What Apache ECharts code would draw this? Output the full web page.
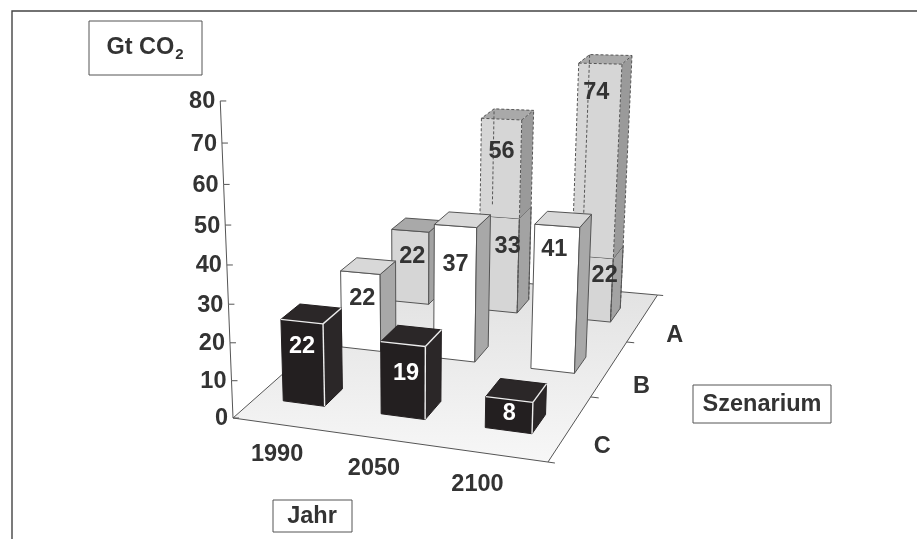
<!DOCTYPE html>
<html>
<head>
<meta charset="utf-8">
<script src="https://cdn.jsdelivr.net/npm/echarts@6/dist/echarts.min.js"></script>
<style>
html, body { margin: 0; background: #fff; }
#main { width: 917px; height: 539px; }
</style>
</head>
<body>
<div id="main"></div>
<script>
const jahre = ['1990', '2050', '2100'];
const szenarien = ['C', 'B', 'A'];
const ticks = [0, 10, 20, 30, 40, 50, 60, 70, 80];

const werteC = [22, 19, 8];
const werteB = [22, 37, 41];
const werteA = [22, 33, 22];
const oberA = [null, 56, 74];
// heights as they are drawn in the picture, a few differ from the printed labels
const gezeichnetB = [22, 37, 39];
const gezeichnetA = [22, 28, 18.5];
const gezeichnetOber = [null, 56, 72];

// camera: homogeneous image vectors of the jahr, szenario and height directions
const camU = [265.1, 2.0, -0.091];
const camV = [265.3, -77.5, 0.252];
const camH = [-27.5, -323.8, -0.067];
const cam0 = [233, 418, 1];
function project(u, v, h) {
  const p = [0, 1, 2].map(k => cam0[k] + u * camU[k] + v * camV[k] + h * camH[k]);
  return [p[0] / p[2], p[1] / p[2]];
}

const FONT = 'bold 23.5px "Liberation Sans", Arial, sans-serif';
const INK = '#333333';

function poly(points, fill, stroke, dash, width) {
  return {
    type: 'polygon',
    shape: { points: points },
    style: { fill: fill, stroke: stroke, lineWidth: width || 1, lineDash: dash || null }
  };
}
function seg(a, b, stroke, dash, width) {
  return {
    type: 'line',
    shape: { x1: a[0], y1: a[1], x2: b[0], y2: b[1] },
    style: { stroke: stroke, lineWidth: width || 1, lineDash: dash || null }
  };
}
function label(pos, text, fill, align) {
  return {
    type: 'text',
    x: pos[0],
    y: pos[1],
    style: { text: text, fill: fill, font: FONT, align: align || 'center', verticalAlign: 'middle' }
  };
}

// unit positions of a bar, taken from the hidden axes of the grid
function barBox(params, api, jahr, reihe, wert) {
  const cs = params.coordSys;
  const band = api.size([1, 0])[0] / cs.width;
  const uc = (api.coord([jahr, 0])[0] - cs.x) / cs.width;
  return {
    u0: uc - band * 0.215,
    u1: uc + band * 0.215,
    v0: (reihe + 0.5) / szenarien.length - 0.05,
    v1: (reihe + 0.5) / szenarien.length + 0.05,
    h: (cs.y + cs.height - api.coord([jahr, wert])[1]) / cs.height
  };
}
function corners(b, h0, h1) {
  return {
    fl0: project(b.u0, b.v0, h0), fr0: project(b.u1, b.v0, h0), br0: project(b.u1, b.v1, h0),
    bl0: project(b.u0, b.v1, h0),
    fl1: project(b.u0, b.v0, h1), fr1: project(b.u1, b.v0, h1), br1: project(b.u1, b.v1, h1),
    bl1: project(b.u0, b.v1, h1)
  };
}
function boxFaces(c, front, side, top, stroke, dash) {
  return [
    poly([c.fl0, c.fr0, c.fr1, c.fl1], front, stroke, dash),
    poly([c.fr0, c.br0, c.br1, c.fr1], side, stroke, dash),
    poly([c.fl1, c.fr1, c.br1, c.bl1], top, stroke, dash)
  ];
}

function renderFloor(params, api) {
  const bl = project(0, 0, 0), br = project(1, 0, 0), tr = project(1, 1, 0), tl = project(0, 1, 0);
  const kids = [
    {
      type: 'polygon',
      shape: { points: [bl, br, tr, tl] },
      style: {
        fill: new echarts.graphic.LinearGradient(0, 0, 0, 1, [
          { offset: 0, color: '#e0e0e0' },
          { offset: 1, color: '#f7f7f7' }
        ]),
        stroke: '#555',
        lineWidth: 1
      }
    },
    seg(br, project(1.02, 0, 0), '#555'),
    seg(tr, project(1.02, 1, 0), '#555')
  ];
  szenarien.forEach((s, i) => {
    const a = project(1, (i + 0.5) / szenarien.length, 0);
    kids.push(label([a[0] + 32, a[1] + 18], s, INK));
    if (i > 0) {
      const t = i / szenarien.length;
      kids.push(seg(project(1, t, 0), project(1.025, t, 0), '#555'));
    }
  });
  return { type: 'group', children: kids };
}

function renderAchse(params, api) {
  const cs = params.coordSys;
  const t = api.value(1);
  const h = (cs.y + cs.height - api.coord([0, t])[1]) / cs.height;
  const p = project(0, 0, h);
  const kids = [
    seg(p, [p[0] + 6, p[1]], '#555'),
    label([p[0] - 5, p[1] + 1], String(t), INK, 'right')
  ];
  if (t > 0) {
    const q = project(0, 0, (cs.y + cs.height - api.coord([0, t - 10])[1]) / cs.height);
    kids.push(seg(q, p, '#555'));
  }
  return { type: 'group', children: kids };
}

function renderJahr(params, api) {
  const cs = params.coordSys;
  const i = api.value(0);
  const uc = (api.coord([i, 0])[0] - cs.x) / cs.width;
  const a = project(uc, 0, 0);
  return label([a[0] - 2 - 14 * uc, a[1] + 30], jahre[i], INK);
}

function renderBlack(params, api) {
  const i = api.value(0);
  const b = barBox(params, api, i, 0, api.value(1));
  const c = corners(b, 0, b.h);
  const dark = '#231f20';
  return {
    type: 'group',
    children: boxFaces(c, dark, '#2b2728', '#2b2728', dark).concat([
      seg(c.fl1, c.fr1, '#eeeeee', null, 1.4),
      seg(c.fr0, c.fr1, '#eeeeee', null, 1.4),
      seg(c.fr1, c.br1, '#eeeeee', null, 1.4)
    ])
  };
}

function renderWhite(params, api) {
  const b = barBox(params, api, api.value(0), 1, api.value(1));
  const c = corners(b, 0, b.h);
  return { type: 'group', children: boxFaces(c, '#ffffff', '#a8a8a8', '#d8d8d8', '#555') };
}

function renderGrey(params, api) {
  const i = api.value(0);
  const b = barBox(params, api, i, 2, api.value(1));
  const c = corners(b, 0, b.h);
  const top = oberA[i] === null ? '#a9a9a9' : '#dadada';
  return { type: 'group', children: boxFaces(c, '#d6d6d6', '#a3a3a3', top, '#555') };
}

function renderOber(params, api) {
  const i = api.value(0);
  const dash = [3, 2];
  const unten = barBox(params, api, i, 2, gezeichnetA[i]);
  const oben = barBox(params, api, i, 2, api.value(1));
  const c = corners(oben, unten.h, oben.h);
  const all = corners(oben, 0, oben.h);
  return {
    type: 'group',
    children: [
      poly([c.fl0, c.fr0, c.fr1, c.fl1], '#d6d6d6', null),
      poly([c.fr0, c.br0, c.br1, c.fr1], '#9a9a9a', null),
      poly([c.fl1, c.fr1, c.br1, c.bl1], '#a9a9a9', '#555', dash),
      seg(all.fl1, c.fl0, '#555', dash),
      seg(all.fr0, all.fr1, '#555', dash),
      seg(all.br0, all.br1, '#555', dash),
      seg(c.bl0, c.bl1, '#555', dash)
    ]
  };
}

// bar value labels, drawn last so no bar hides them
const labelDrop = [[25, 29, 14], [26, 38, 24], [26, 29, 19], [0, 32, 29]];
const labelShift = [[0, 3, 0], [2, 0, -3], [2, 8, 12], [0, 0, -4]];
function renderWerte(params, api) {
  const i = api.value(0);
  const gruppe = api.value(3);
  const b = barBox(params, api, i, Math.min(gruppe, 2), api.value(1));
  const c = corners(b, 0, b.h);
  const x = (c.fl1[0] + c.fr1[0]) / 2 + labelShift[gruppe][i];
  const y = (c.fl1[1] + c.fr1[1]) / 2 + labelDrop[gruppe][i];
  return label([x, y], String(api.value(2)), gruppe === 0 ? '#ffffff' : INK);
}

function custom(name, renderItem, data, z) {
  return {
    name: name,
    type: 'custom',
    renderItem: renderItem,
    data: data,
    z: z,
    silent: true,
    clip: false,
    encode: { x: 0, y: 1 }
  };
}
function zeilen(werte) {
  return werte.map((w, i) => [i, w]).filter(d => d[1] !== null);
}
function labelZeilen(hoehen, werte, gruppe) {
  return werte.map((w, i) => [i, hoehen[i], w, gruppe]).filter(d => d[2] !== null);
}

function box(x, y, w, h) {
  return {
    type: 'rect',
    shape: { x: x, y: y, width: w, height: h },
    style: { fill: '#fff', stroke: '#555', lineWidth: 1 }
  };
}
function boxText(x, y, text) {
  return {
    type: 'text',
    x: x,
    y: y,
    style: {
      text: text,
      align: 'center',
      verticalAlign: 'middle',
      font: FONT,
      fill: INK,
      rich: {
        sub: { font: 'bold 15px "Liberation Sans", Arial, sans-serif', fill: INK, verticalAlign: 'bottom', padding: [14, 0, 0, 1] }
      }
    }
  };
}

const myChart = echarts.init(document.getElementById('main'), null, { renderer: 'canvas' });
const option = {
  animation: false,
  backgroundColor: '#ffffff',
  grid: { left: 0, right: 0, top: 0, bottom: 0, containLabel: false },
  xAxis: { type: 'category', data: jahre, show: false },
  yAxis: { type: 'value', min: 0, max: 80, interval: 10, show: false },
  graphic: [
    { type: 'polyline', shape: { points: [[12, 539], [12, 11], [917, 11]] }, style: { fill: null, stroke: '#444', lineWidth: 1.4 } },
    box(89, 21, 113, 54),
    box(693, 385, 138, 38),
    box(273, 500, 79, 32),
    boxText(145, 48, 'Gt CO{sub|2}'),
    boxText(762, 405, 'Szenarium'),
    boxText(312, 517, 'Jahr')
  ],
  series: [
    custom('Boden', renderFloor, [[0, 0]], 1),
    custom('Achse', renderAchse, ticks.map(t => [0, t]), 2),
    custom('Jahr', renderJahr, jahre.map((j, i) => [i, 0]), 2),
    custom('A', renderGrey, zeilen(gezeichnetA), 3),
    custom('A oben', renderOber, zeilen(gezeichnetOber), 4),
    custom('B', renderWhite, zeilen(gezeichnetB), 5),
    custom('C', renderBlack, zeilen(werteC), 6),
    custom('Werte', renderWerte, [].concat(
      labelZeilen(werteC, werteC, 0),
      labelZeilen(gezeichnetB, werteB, 1),
      labelZeilen(gezeichnetA, werteA, 2),
      labelZeilen(gezeichnetOber, oberA, 3)
    ), 7)
  ]
};
myChart.setOption(option);
</script>
</body>
</html>
